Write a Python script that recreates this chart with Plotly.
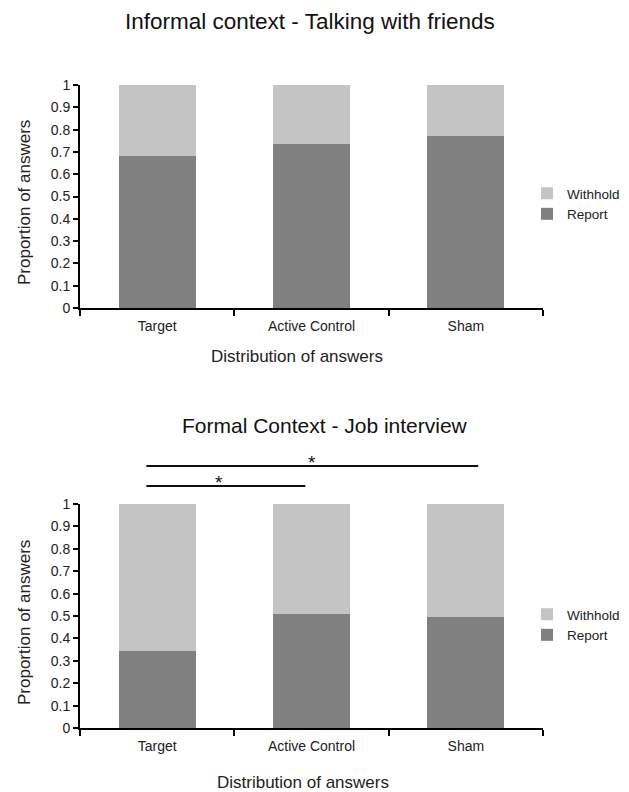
import plotly.graph_objects as go

categories = ["Target", "Active Control", "Sham"]
informal_report = [0.683, 0.737, 0.773]
informal_withhold = [0.317, 0.263, 0.227]
formal_report = [0.344, 0.507, 0.497]
formal_withhold = [0.656, 0.493, 0.503]
y_ticks = [0, 0.1, 0.2, 0.3, 0.4, 0.5, 0.6, 0.7, 0.8, 0.9, 1]
y_tick_text = ["0", "0.1", "0.2", "0.3", "0.4", "0.5", "0.6", "0.7", "0.8", "0.9", "1"]

REPORT = "#808080"
WITHHOLD = "#c4c4c4"
FONT = "Liberation Sans, Arial, sans-serif"

# page body has an 8px margin: figure occupies the window minus that offset
OFF = 8
W, H = 629 - OFF, 792 - OFF


def px(x):
    return (x - OFF) / W


def py(y):
    return 1 - (y - OFF) / H


fig = go.Figure()
for xa, ya, rep, wit, lg in [("x", "y", informal_report, informal_withhold, "legend"),
                              ("x2", "y2", formal_report, formal_withhold, "legend2")]:
    fig.add_trace(go.Bar(x=categories, y=rep, name="Report", marker_color=REPORT,
                         marker_line_width=0, width=0.5, xaxis=xa, yaxis=ya, legend=lg))
    fig.add_trace(go.Bar(x=categories, y=wit, name="Withhold", marker_color=WITHHOLD,
                         marker_line_width=0, width=0.5, xaxis=xa, yaxis=ya, legend=lg))

xdom = [px(80), px(543)]
ytop = [py(308), py(85)]
ybot = [py(728), py(504)]

xcommon = dict(domain=xdom, type="category", showline=True, linecolor="black", linewidth=2,
               ticks="outside", tickson="boundaries", ticklen=6, tickwidth=2, tickcolor="black",
               showgrid=False, zeroline=False, tickfont=dict(size=14, color="#222", family=FONT),
               range=[-0.5, 2.5], automargin=False, ticklabelstandoff=4)
ycommon = dict(range=[0, 1], showline=True, linecolor="black", linewidth=2, ticks="outside",
               ticklen=5, tickwidth=1.5, tickcolor="black", tickvals=y_ticks, ticktext=y_tick_text,
               showgrid=False, zeroline=False, tickfont=dict(size=14, color="#222", family=FONT),
               automargin=False)

legend_common = dict(xanchor="left", yanchor="middle", traceorder="reversed", itemwidth=30,
                     font=dict(size=13.5, family=FONT, color="#222"), bgcolor="rgba(0,0,0,0)",
                     tracegroupgap=0)

fig.update_layout(
    width=W, height=H, margin=dict(l=0, r=0, t=0, b=0, autoexpand=False),
    paper_bgcolor="white", plot_bgcolor="white", barmode="stack", bargap=0.5,
    font=dict(family=FONT, color="#222"),
    xaxis=dict(**xcommon, anchor="y"),
    yaxis=dict(**ycommon, domain=ytop, anchor="x"),
    xaxis2=dict(**xcommon, anchor="y2"),
    yaxis2=dict(**ycommon, domain=ybot, anchor="x2"),
    legend=dict(x=px(527), y=py(204), **legend_common),
    legend2=dict(x=px(527), y=py(625), **legend_common),
)

# titles
fig.add_annotation(text="Informal context - Talking with friends", x=px(310), y=py(21),
                   xref="paper", yref="paper", xanchor="center", yanchor="middle", showarrow=False,
                   font=dict(size=22.5, family=FONT, color="#111"))
fig.add_annotation(text="Formal Context - Job interview", x=px(325), y=py(425),
                   xref="paper", yref="paper", xanchor="center", yanchor="middle", showarrow=False,
                   font=dict(size=21, family=FONT, color="#111"))
# axis titles
for yc, xc in [(356, 297), (782, 303)]:
    fig.add_annotation(text="Distribution of answers", x=px(xc), y=py(yc), xref="paper", yref="paper",
                       xanchor="center", yanchor="middle", showarrow=False,
                       font=dict(size=17, family=FONT, color="#222"))
for yc in [203, 623]:
    fig.add_annotation(text="Proportion of answers", x=px(24), y=py(yc), xref="paper", yref="paper",
                       xanchor="center", yanchor="middle", showarrow=False, textangle=-90,
                       font=dict(size=17, family=FONT, color="#222"))

# significance bars (x in category units of the bottom panel, y relative to its domain)
sig = [(-0.07, 2.08, 1.17, 1.0, 3), (-0.07, 0.96, 1.08, 0.4, 4)]
for x0, x1, yy, xs, ys in sig:
    fig.add_shape(type="line", xref="x2", yref="y2 domain", x0=x0, x1=x1, y0=yy, y1=yy,
                  line=dict(color="#111", width=2))
    fig.add_annotation(text="*", xref="x2", yref="y2 domain", x=xs, y=yy, yanchor="middle",
                       showarrow=False, font=dict(size=19, family=FONT, color="#111"), yshift=ys)

fig.write_html("out.html")
